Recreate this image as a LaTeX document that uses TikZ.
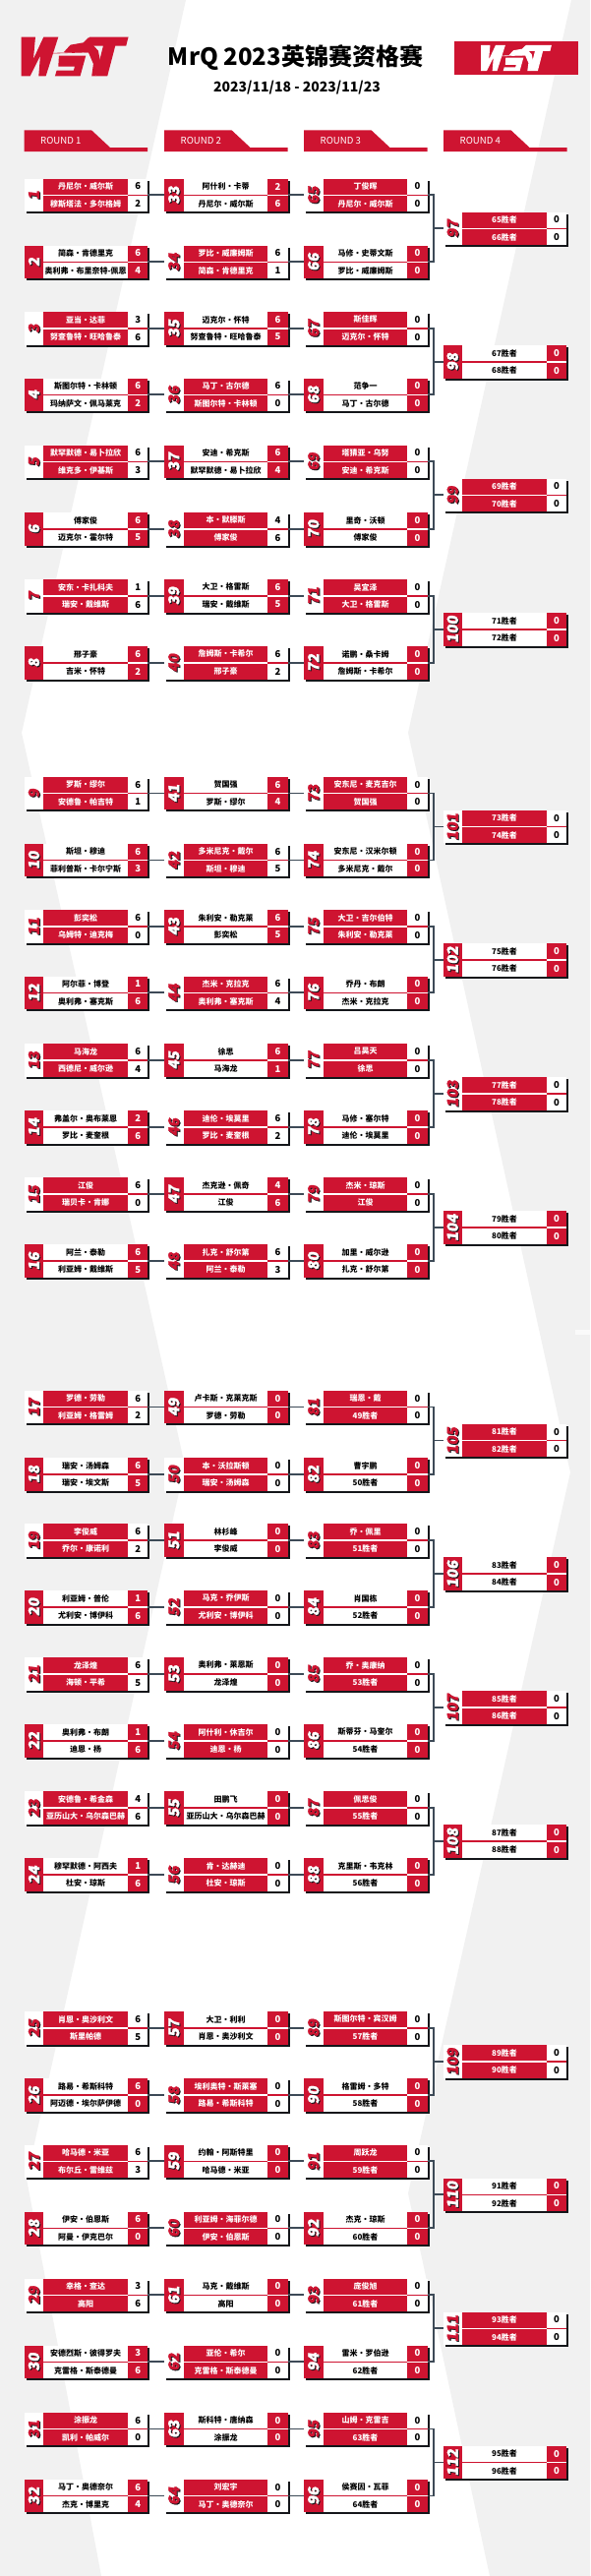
\documentclass[tikz,border=0pt]{standalone}
\usepackage{fontspec}
\setmainfont{Noto Sans CJK SC}
\newfontfamily\numfont[BoldFeatures={FakeBold=1.6,FakeSlant=0.12}]{Noto Sans CJK SC}
\usetikzlibrary{positioning, shadows}

\definecolor{wstred}{HTML}{CE1431}
\definecolor{wstgrey}{HTML}{F1F1F1}
\definecolor{linkgrey}{HTML}{3D4A57}
\definecolor{boxshadow}{HTML}{14161A}

\tikzset{
  backbox/.style = {anchor=north west, fill=white, minimum width=125.7pt, minimum height=33.6pt, inner sep=0pt, outer sep=0pt,
    general shadow={fill=boxshadow, shadow xshift=2pt, shadow yshift=-2pt}},
  numcell/.style = {anchor=north west, minimum width=19.6pt, minimum height=33.6pt, inner sep=0pt, outer sep=0pt},
  namecell/.style = {anchor=north west, minimum width=85.8pt, minimum height=16pt, inner sep=0pt, outer sep=0pt, font=\bfseries\fontsize{8}{8}\selectfont},
  scorecell/.style = {minimum width=20.3pt, minimum height=16pt, inner sep=0pt, outer sep=0pt, font=\bfseries\fontsize{9.5}{10}\selectfont},
  numtext/.style = {rotate=90, inner sep=0pt, font=\numfont\bfseries\fontsize{15}{15}\selectfont},
  midline/.style = {line width=1.6pt},
  link/.style = {draw=linkgrey, line width=1.8pt},
  roundtext/.style = {anchor=west, inner sep=0pt, text=white, font=\fontsize{9.6}{10}\selectfont},
}

% red names, white score
\newcommand{\matcha}[7]{
\node[backbox] (m#1) at (#2,#3) {};
\node[numcell, fill=white] (m#1n) at (m#1.north west) {};
\node[numtext, text=boxshadow] (m#1t) at ([xshift=1pt,yshift=-1pt]m#1n.center) {#1};
\node[numtext, text=wstred] (m#1u) at (m#1n.center) {#1};
\node[namecell, fill=wstred, text=white] (m#1a) at (m#1n.north east) {#4};
\node[scorecell, fill=white, text=black, right=0pt of m#1a] (m#1x) {#5};
\node[namecell, anchor=center, fill=wstred, text=white, below=1.6pt of m#1a] (m#1b) {#6};
\node[scorecell, fill=white, text=black, right=0pt of m#1b] (m#1y) {#7};
\draw[midline, wstred] ([yshift=-.8pt]m#1x.south west) -- ([yshift=-.8pt]m#1x.south east);
}

% white names, red score
\newcommand{\matchb}[7]{
\node[backbox] (m#1) at (#2,#3) {};
\node[numcell, fill=wstred] (m#1n) at (m#1.north west) {};
\node[numtext, text=boxshadow] (m#1t) at ([xshift=1pt,yshift=-1pt]m#1n.center) {#1};
\node[numtext, text=white] (m#1u) at (m#1n.center) {#1};
\node[namecell, fill=white, text=black] (m#1a) at (m#1n.north east) {#4};
\node[scorecell, fill=wstred, text=white, right=0pt of m#1a] (m#1x) {#5};
\node[namecell, anchor=center, fill=white, text=black, below=1.6pt of m#1a] (m#1b) {#6};
\node[scorecell, fill=wstred, text=white, right=0pt of m#1b] (m#1y) {#7};
\draw[midline, wstred] ([yshift=-.8pt]m#1a.south west) -- ([yshift=-.8pt]m#1a.south east);
}

\newcommand{\roundtab}[3]{
\fill[wstred] (#2,132.3) -- +(68.5,0) -- +(87.5,17.7) -- +(125.7,17.7) -- +(125.7,21.7) -- +(0,21.7) -- cycle;
\node[roundtext] (#1) at (#2+16.5,142.7) {#3};
}

\newcommand{\wstmark}[1]{
\fill[#1] (35,38) -- (78,38) -- (72,105) -- (103,38) -- (148,38) -- (110,157) -- (88,157) -- (93,95) -- (62,157) -- (35,157) -- cycle;
\fill[#1] (150,95) -- (232,95) -- (215,157) -- (138,157) -- (143,140) -- (195,140) -- (198,128) -- (148,128) -- cycle;
\fill[#1] (165,84) -- (185,62) -- (225,55) -- (240,40) -- (255,42) -- (252,60) -- (270,80) -- (280,130) -- (265,150) -- (262,157) -- (250,157) -- (255,120) -- (240,85) -- cycle;
\fill[#1] (243,38) -- (362,38) -- (355,65) -- (322,65) -- (298,157) -- (262,157) -- (285,65) -- (236,65) -- cycle;
\draw[#1, line width=.6pt] (122,88) -- (240,84);
}

\begin{document}
\begin{tikzpicture}[x=1pt, y=-1pt]
\useasboundingbox (0,0) rectangle (600,2619);
\fill[white] (0,0) rectangle (600,2619);
\fill[wstgrey] (0,0) -- (189,0) -- (22,745) -- (188,1490) -- (27,2215) -- (103,2619) -- (0,2619) -- cycle;
\fill[wstgrey] (581,0) -- (415,745) -- (580,1497) -- (415,2230) -- (498,2619) -- (600,2619) -- (600,0) -- cycle;
\fill[white, opacity=.7] (585,1352) rectangle (600,1357);

\begin{scope}[shift={(10,25)}, scale=.333]
\wstmark{wstred}
\end{scope}
\fill[wstred] (461.5,42.3) rectangle (588,75.7);
\begin{scope}[shift={(481.3,37.6)}, scale=.22]
\wstmark{white}
\end{scope}

\node[inner sep=0pt, font=\bfseries\fontsize{24}{24}\selectfont] (title) at (300.5,59) {MrQ 2023英锦赛资格赛};
\node[inner sep=0pt, font=\bfseries\fontsize{14}{14}\selectfont] (dates) at (302,89.5) {2023/11/18 - 2023/11/23};

\roundtab{r1}{24.5}{ROUND 1}
\roundtab{r2}{167}{ROUND 2}
\roundtab{r3}{309}{ROUND 3}
\roundtab{r4}{451}{ROUND 4}

% round 1
\matcha{1}{24.7}{181.5}{丹尼尔·威尔斯}{6}{穆斯塔法·多尔格姆}{2}
\matchb{2}{24.7}{249.5}{简森·肯德里克}{6}{奥利弗·布里奈特-佩恩}{4}
\matcha{3}{24.7}{317}{亚当·达菲}{3}{努查鲁特·旺哈鲁泰}{6}
\matchb{4}{24.7}{384.5}{斯图尔特·卡林顿}{6}{玛纳萨文·佩马莱克}{2}
\matcha{5}{24.7}{452.5}{默罕默德·易卜拉欣}{6}{维克多·伊基斯}{3}
\matchb{6}{24.7}{521}{傅家俊}{6}{迈克尔·霍尔特}{5}
\matcha{7}{24.7}{589}{安东·卡扎科夫}{1}{瑞安·戴维斯}{6}
\matchb{8}{24.7}{657}{邢子豪}{6}{吉米·怀特}{2}
\matcha{9}{24.7}{789.7}{罗斯·缪尔}{6}{安德鲁·帕吉特}{1}
\matchb{10}{24.7}{857.7}{斯坦·穆迪}{6}{菲利普斯·卡尔宁斯}{3}
\matcha{11}{24.7}{925}{彭奕松}{6}{乌姆特·迪克梅}{0}
\matchb{12}{24.7}{992.5}{阿尔菲·博登}{1}{奥利弗·塞克斯}{6}
\matcha{13}{24.7}{1061}{马海龙}{6}{西德尼·威尔逊}{4}
\matchb{14}{24.7}{1129}{弗盖尔·奥布莱恩}{2}{罗比·麦奎根}{6}
\matcha{15}{24.7}{1197.3}{江俊}{6}{瑞贝卡·肯娜}{0}
\matchb{16}{24.7}{1265.3}{阿兰·泰勒}{6}{利亚姆·戴维斯}{5}
\matcha{17}{24.7}{1413.7}{罗德·劳勒}{6}{利亚姆·格雷姆}{2}
\matchb{18}{24.7}{1482}{瑞安·汤姆森}{6}{瑞安·埃文斯}{5}
\matcha{19}{24.7}{1549.3}{李俊威}{6}{乔尔·康诺利}{2}
\matchb{20}{24.7}{1617}{利亚姆·普伦}{1}{尤利安·博伊科}{6}
\matcha{21}{24.7}{1685}{龙泽煌}{6}{海顿·平希}{5}
\matchb{22}{24.7}{1753}{奥利弗·布朗}{1}{迪恩·杨}{6}
\matcha{23}{24.7}{1821.3}{安德鲁·希金森}{4}{亚历山大·乌尔森巴赫}{6}
\matchb{24}{24.7}{1889.3}{穆罕默德·阿西夫}{1}{杜安·琼斯}{6}
\matcha{25}{24.7}{2045}{肖恩·奥沙利文}{6}{斯里帕德}{5}
\matchb{26}{24.7}{2113.3}{路易·希斯科特}{6}{阿迈德·埃尔萨伊德}{0}
\matcha{27}{24.7}{2180.5}{哈马德·米亚}{6}{布尔丘·雷维兹}{3}
\matchb{28}{24.7}{2248.5}{伊安·伯恩斯}{6}{阿曼·伊克巴尔}{0}
\matcha{29}{24.7}{2316.5}{幸格·查达}{3}{高阳}{6}
\matchb{30}{24.7}{2384.5}{安德烈斯·彼得罗夫}{3}{克雷格·斯泰德曼}{6}
\matcha{31}{24.7}{2452.7}{涂振龙}{6}{凯利·帕威尔}{0}
\matchb{32}{24.7}{2520.7}{马丁·奥德奈尔}{6}{杰克·博里克}{4}

% round 2
\matchb{33}{167}{181.5}{阿什利·卡蒂}{2}{丹尼尔·威尔斯}{6}
\matcha{34}{167}{249.5}{罗比·威廉姆斯}{6}{简森·肯德里克}{1}
\matchb{35}{167}{317}{迈克尔·怀特}{6}{努查鲁特·旺哈鲁泰}{5}
\matcha{36}{167}{384.5}{马丁·古尔德}{6}{斯图尔特·卡林顿}{0}
\matchb{37}{167}{452.5}{安迪·希克斯}{6}{默罕默德·易卜拉欣}{4}
\matcha{38}{167}{521}{本·默滕斯}{4}{傅家俊}{6}
\matchb{39}{167}{589}{大卫·格雷斯}{6}{瑞安·戴维斯}{5}
\matcha{40}{167}{657}{詹姆斯·卡希尔}{6}{邢子豪}{2}
\matchb{41}{167}{789.7}{贺国强}{6}{罗斯·缪尔}{4}
\matcha{42}{167}{857.7}{多米尼克·戴尔}{6}{斯坦·穆迪}{5}
\matchb{43}{167}{925}{朱利安·勒克莱}{6}{彭奕松}{5}
\matcha{44}{167}{992.5}{杰米·克拉克}{6}{奥利弗·塞克斯}{4}
\matchb{45}{167}{1061}{徐思}{6}{马海龙}{1}
\matcha{46}{167}{1129}{迪伦·埃莫里}{6}{罗比·麦奎根}{2}
\matchb{47}{167}{1197.3}{杰克逊·佩奇}{4}{江俊}{6}
\matcha{48}{167}{1265.3}{扎克·舒尔第}{6}{阿兰·泰勒}{3}
\matchb{49}{167}{1413.7}{卢卡斯·克莱克斯}{0}{罗德·劳勒}{0}
\matcha{50}{167}{1482}{本·沃拉斯顿}{0}{瑞安·汤姆森}{0}
\matchb{51}{167}{1549.3}{林杉峰}{0}{李俊威}{0}
\matcha{52}{167}{1617}{马克·乔伊斯}{0}{尤利安·博伊科}{0}
\matchb{53}{167}{1685}{奥利弗·莱恩斯}{0}{龙泽煌}{0}
\matcha{54}{167}{1753}{阿什利·休吉尔}{0}{迪恩·杨}{0}
\matchb{55}{167}{1821.3}{田鹏飞}{0}{亚历山大·乌尔森巴赫}{0}
\matcha{56}{167}{1889.3}{肯·达赫迪}{0}{杜安·琼斯}{0}
\matchb{57}{167}{2045}{大卫·利利}{0}{肖恩·奥沙利文}{0}
\matcha{58}{167}{2113.3}{埃利奥特·斯莱塞}{0}{路易·希斯科特}{0}
\matchb{59}{167}{2180.5}{约翰·阿斯特里}{0}{哈马德·米亚}{0}
\matcha{60}{167}{2248.5}{利亚姆·海菲尔德}{0}{伊安·伯恩斯}{0}
\matchb{61}{167}{2316.5}{马克·戴维斯}{0}{高阳}{0}
\matcha{62}{167}{2384.5}{亚伦·希尔}{0}{克雷格·斯泰德曼}{0}
\matchb{63}{167}{2452.7}{斯科特·唐纳森}{0}{涂振龙}{0}
\matcha{64}{167}{2520.7}{刘宏宇}{0}{马丁·奥德奈尔}{0}

% round 3
\matcha{65}{309}{181.5}{丁俊晖}{0}{丹尼尔·威尔斯}{0}
\matchb{66}{309}{249.5}{马修·史蒂文斯}{0}{罗比·威廉姆斯}{0}
\matcha{67}{309}{317}{斯佳辉}{0}{迈克尔·怀特}{0}
\matchb{68}{309}{384.5}{范争一}{0}{马丁·古尔德}{0}
\matcha{69}{309}{452.5}{塔猜亚·乌努}{0}{安迪·希克斯}{0}
\matchb{70}{309}{521}{里奇·沃顿}{0}{傅家俊}{0}
\matcha{71}{309}{589}{吴宜泽}{0}{大卫·格雷斯}{0}
\matchb{72}{309}{657}{诺鹏·桑卡姆}{0}{詹姆斯·卡希尔}{0}
\matcha{73}{309}{789.7}{安东尼·麦克吉尔}{0}{贺国强}{0}
\matchb{74}{309}{857.7}{安东尼·汉米尔顿}{0}{多米尼克·戴尔}{0}
\matcha{75}{309}{925}{大卫·吉尔伯特}{0}{朱利安·勒克莱}{0}
\matchb{76}{309}{992.5}{乔丹·布朗}{0}{杰米·克拉克}{0}
\matcha{77}{309}{1061}{吕昊天}{0}{徐思}{0}
\matchb{78}{309}{1129}{马修·塞尔特}{0}{迪伦·埃莫里}{0}
\matcha{79}{309}{1197.3}{杰米·琼斯}{0}{江俊}{0}
\matchb{80}{309}{1265.3}{加里·威尔逊}{0}{扎克·舒尔第}{0}
\matcha{81}{309}{1413.7}{瑞恩·戴}{0}{49胜者}{0}
\matchb{82}{309}{1482}{曹宇鹏}{0}{50胜者}{0}
\matcha{83}{309}{1549.3}{乔·佩里}{0}{51胜者}{0}
\matchb{84}{309}{1617}{肖国栋}{0}{52胜者}{0}
\matcha{85}{309}{1685}{乔·奥康纳}{0}{53胜者}{0}
\matchb{86}{309}{1753}{斯蒂芬·马奎尔}{0}{54胜者}{0}
\matcha{87}{309}{1821.3}{佩思俊}{0}{55胜者}{0}
\matchb{88}{309}{1889.3}{克里斯·韦克林}{0}{56胜者}{0}
\matcha{89}{309}{2045}{斯图尔特·宾汉姆}{0}{57胜者}{0}
\matchb{90}{309}{2113.3}{格雷姆·多特}{0}{58胜者}{0}
\matcha{91}{309}{2180.5}{周跃龙}{0}{59胜者}{0}
\matchb{92}{309}{2248.5}{杰克·琼斯}{0}{60胜者}{0}
\matcha{93}{309}{2316.5}{庞俊旭}{0}{61胜者}{0}
\matchb{94}{309}{2384.5}{雷米·罗伯逊}{0}{62胜者}{0}
\matcha{95}{309}{2452.7}{山姆·克雷吉}{0}{63胜者}{0}
\matchb{96}{309}{2520.7}{侯赛因·瓦菲}{0}{64胜者}{0}

% round 4
\matcha{97}{450.5}{215.5}{65胜者}{0}{66胜者}{0}
\matchb{98}{450.5}{351}{67胜者}{0}{68胜者}{0}
\matcha{99}{450.5}{486.5}{69胜者}{0}{70胜者}{0}
\matchb{100}{450.5}{623}{71胜者}{0}{72胜者}{0}
\matcha{101}{450.5}{823.7}{73胜者}{0}{74胜者}{0}
\matchb{102}{450.5}{959}{75胜者}{0}{76胜者}{0}
\matcha{103}{450.5}{1095}{77胜者}{0}{78胜者}{0}
\matchb{104}{450.5}{1231.3}{79胜者}{0}{80胜者}{0}
\matcha{105}{450.5}{1447.7}{81胜者}{0}{82胜者}{0}
\matchb{106}{450.5}{1583.3}{83胜者}{0}{84胜者}{0}
\matcha{107}{450.5}{1719}{85胜者}{0}{86胜者}{0}
\matchb{108}{450.5}{1855.3}{87胜者}{0}{88胜者}{0}
\matcha{109}{450.5}{2079}{89胜者}{0}{90胜者}{0}
\matchb{110}{450.5}{2214.5}{91胜者}{0}{92胜者}{0}
\matcha{111}{450.5}{2350.5}{93胜者}{0}{94胜者}{0}
\matchb{112}{450.5}{2486.7}{95胜者}{0}{96胜者}{0}

\foreach \i in {1,...,32} {
  \pgfmathtruncatemacro{\next}{\i+32}
  \pgfmathtruncatemacro{\last}{\i+64}
  \draw[link] (m\i.east) -- (m\next.west);
  \draw[link] (m\next.east) -- (m\last.west);
}
\foreach \i in {1,...,16} {
  \pgfmathtruncatemacro{\upper}{63+2*\i}
  \pgfmathtruncatemacro{\lower}{64+2*\i}
  \pgfmathtruncatemacro{\final}{96+\i}
  \coordinate (j\final) at (441,0 |- m\final.west);
  \draw[link] (m\upper.east) -| (j\final) |- (m\lower.east);
  \draw[link] (j\final) -- (m\final.west);
}
\end{tikzpicture}
\end{document}
